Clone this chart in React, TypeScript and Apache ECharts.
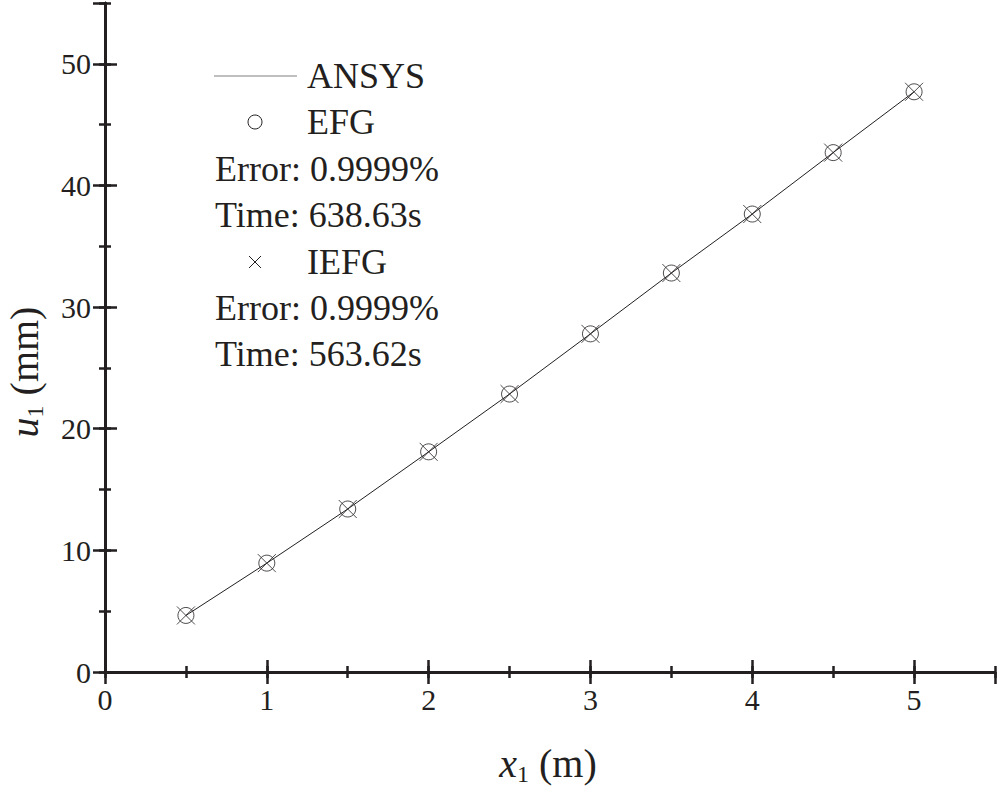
import React, { useEffect, useRef } from "react";
import * as echarts from "echarts";

const xValues = [0.5, 1, 1.5, 2, 2.5, 3, 3.5, 4, 4.5, 5];
const ansysValues = [4.65, 8.95, 13.4, 18.1, 22.85, 27.8, 32.8, 37.65, 42.7, 47.7];
const efgValues = [4.65, 8.95, 13.4, 18.1, 22.85, 27.8, 32.8, 37.65, 42.7, 47.7];
const iefgValues = [4.65, 8.95, 13.4, 18.1, 22.85, 27.8, 32.8, 37.65, 42.7, 47.7];
const legendLines = [
  "ANSYS",
  "EFG",
  "Error: 0.9999%",
  "Time: 638.63s",
  "IEFG",
  "Error: 0.9999%",
  "Time: 563.62s",
];

const FONT = "'Liberation Serif', 'Times New Roman', serif";
const INK = "#231f20";

export default function App() {
  const ref = useRef<HTMLDivElement>(null);
  useEffect(() => {
    if (!ref.current) return;
    const chart = echarts.init(ref.current, undefined, { renderer: "svg" });
    const pts = (ys: number[]) => xValues.map((x, i) => [x, ys[i]]);
    const axisLine = { show: true, lineStyle: { color: INK, width: 2.5 } };
    const major = { show: true, inside: true, length: 12, lineStyle: { color: INK, width: 2.5 } };
    const minor = { show: true, inside: true, length: 6, lineStyle: { color: INK, width: 2.5 } };
    const noLabel = { show: false };
    const label = { show: true, fontFamily: FONT, fontSize: 30, color: INK };

    const xBase = { type: "value", min: 0, max: 5.5, splitLine: { show: false }, axisLine };
    const yBase = { type: "value", min: 0, max: 55, splitLine: { show: false }, axisLine };

    const rowY = [76, 122, 169, 215, 262, 308, 354];
    const textX = [307, 307, 215, 215, 307, 215, 215];
    const legendGraphics: any[] = legendLines.map((t, i) => ({
      type: "text",
      x: textX[i],
      y: rowY[i],
      style: { text: t, font: `36px ${FONT}`, fill: INK, verticalAlign: "middle", align: "left" },
    }));
    const titleRich = {
      i: { fontFamily: FONT, fontSize: 40, fontStyle: "italic", fill: INK, lineHeight: 46, verticalAlign: "middle" },
      s: { fontFamily: FONT, fontSize: 24, fill: INK, lineHeight: 24, verticalAlign: "bottom" },
      r: { fontFamily: FONT, fontSize: 40, fill: INK, lineHeight: 46, verticalAlign: "middle" },
    };
    legendGraphics.push(
      { type: "line", shape: { x1: 214, y1: 76, x2: 297, y2: 76 }, style: { stroke: "#808080", lineWidth: 1.2 } },
      { type: "circle", shape: { cx: 255, cy: 122, r: 7 }, style: { fill: "none", stroke: INK, lineWidth: 1 } },
      { type: "line", shape: { x1: 249, y1: 256, x2: 261, y2: 268 }, style: { stroke: INK, lineWidth: 1 } },
      { type: "line", shape: { x1: 261, y1: 256, x2: 249, y2: 268 }, style: { stroke: INK, lineWidth: 1 } },
      {
        type: "text",
        x: 548,
        y: 763,
        style: {
          text: "{i|x}{s|1}{r| (m)}",
          fill: INK,
          align: "center",
          verticalAlign: "middle",
          rich: titleRich,
        },
      },
      {
        type: "text",
        x: 24,
        y: 372,
        rotation: Math.PI / 2,
        style: {
          text: "{i|u}{s|1}{r| (mm)}",
          fill: INK,
          align: "center",
          verticalAlign: "middle",
          rich: titleRich,
        },
      }
    );

    chart.setOption({
      animation: false,
      backgroundColor: "#ffffff",
      grid: { left: 105, top: 3, width: 890, height: 669, containLabel: false },
      xAxis: [
        { ...xBase, position: "bottom", interval: 1, axisTick: major, axisLabel: { ...label, margin: 12, showMaxLabel: false, formatter: (v: number) => (v === 5.5 ? "" : String(v)) } },
        { ...xBase, position: "bottom", interval: 0.5, axisTick: minor, axisLabel: noLabel },
        { ...xBase, position: "top", interval: 1, axisTick: major, axisLabel: noLabel },
        { ...xBase, position: "top", interval: 0.5, axisTick: minor, axisLabel: noLabel },
      ],
      yAxis: [
        { ...yBase, position: "left", interval: 10, axisTick: major, axisLabel: { ...label, margin: 14, showMaxLabel: false, formatter: (v: number) => (v === 55 ? "" : String(v)) } },
        { ...yBase, position: "left", interval: 5, axisTick: minor, axisLabel: noLabel },
        { ...yBase, position: "right", interval: 10, axisTick: major, axisLabel: noLabel },
        { ...yBase, position: "right", interval: 5, axisTick: minor, axisLabel: noLabel },
      ],
      graphic: legendGraphics,
      series: [
        {
          name: "ANSYS",
          type: "line",
          data: pts(ansysValues),
          showSymbol: false,
          lineStyle: { color: INK, width: 1 },
          xAxisIndex: 0,
          yAxisIndex: 0,
          z: 2,
        },
        {
          name: "EFG",
          type: "scatter",
          data: pts(efgValues),
          symbol: "circle",
          symbolSize: 16,
          itemStyle: { color: "none", borderColor: INK, borderWidth: 1 },
          xAxisIndex: 0,
          yAxisIndex: 0,
          z: 3,
        },
        {
          name: "IEFG",
          type: "scatter",
          data: pts(iefgValues),
          symbol: "path://M0,0L10,10M10,0L0,10",
          symbolSize: 18,
          itemStyle: { color: "none", borderColor: INK, borderWidth: 1 },
          xAxisIndex: 0,
          yAxisIndex: 0,
          z: 4,
        },
      ],
    });
    return () => chart.dispose();
  }, []);
  return <div ref={ref} style={{ width: 1000, height: 790, position: "absolute", left: 0, top: 0 }} />;
}
